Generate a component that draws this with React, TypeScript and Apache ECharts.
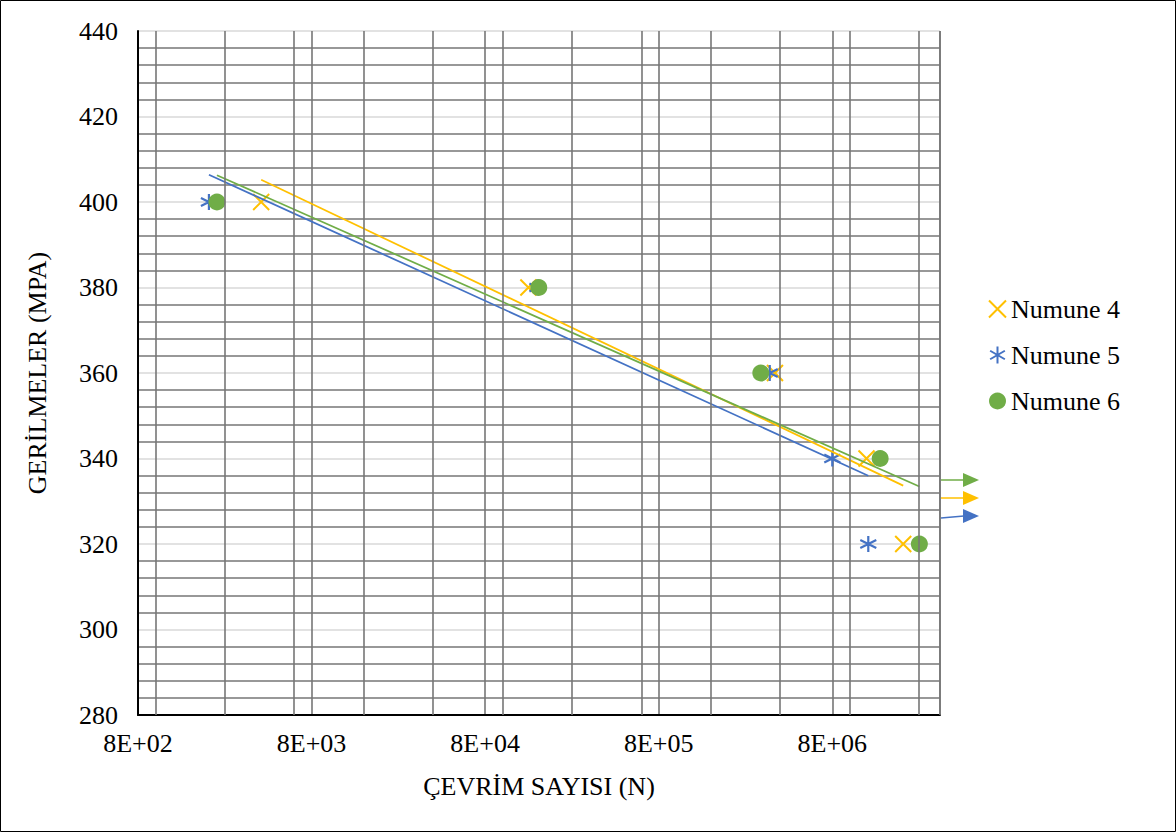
import React, { useEffect, useRef } from "react";
import * as echarts from "echarts";

// ---- data ----
const STRESS = [400, 380, 360, 340, 320];
const CYCLES_4 = [4100, 142000, 3740000, 12600000, 20500000];
const CYCLES_5 = [2050, 160000, 3490000, 8000000, 12900000];
const CYCLES_6 = [2280, 163000, 3100000, 15100000, 25400000];
const SERIES_NAMES = ["Numune 4", "Numune 5", "Numune 6"];
const X_MIN = 800;
const X_MAX = 33400000;
const X_TICK_LABELS = ["8E+02", "8E+03", "8E+04", "8E+05", "8E+06"];
const EXTRA_GRID_CYCLES = [1000, 2512, 6310, 15849, 39811, 100000, 251190, 630960, 1584900, 3981100, 10000000, 25119000];
const Y_MIN = 280;
const Y_MAX = 440;
const Y_STEP = 20;

const FONT = "'Liberation Serif', 'Times New Roman', serif";
const FS = 26;
const ORANGE = "#FFC000";
const BLUE = "#4472C4";
const GREEN = "#70AD47";
const GRID_DARK = "#767676";
const GRID_LIGHT = "#d9d9d9";

const X_PATH = "path://M0,0L10,10M10,0L0,10";
const STAR_PATH = "path://M5,0L5,10M0.67,2.5L9.33,7.5M0.67,7.5L9.33,2.5";

const u = (n: number) => Math.log10(n / X_MIN);

function logFit(cycles: number[], stress: number[]) {
  const xs = cycles.map((c) => Math.log10(c));
  const n = xs.length;
  const mx = xs.reduce((a, b) => a + b, 0) / n;
  const my = stress.reduce((a, b) => a + b, 0) / n;
  let sxy = 0;
  let sxx = 0;
  xs.forEach((x, i) => {
    sxy += (x - mx) * (stress[i] - my);
    sxx += (x - mx) * (x - mx);
  });
  const b = sxy / sxx;
  const a = my - b * mx;
  const cmin = Math.min(...cycles);
  const cmax = Math.max(...cycles);
  return [
    [u(cmin), a + b * Math.log10(cmin)],
    [u(cmax), a + b * Math.log10(cmax)],
  ];
}

export default function App() {
  const ref = useRef<HTMLDivElement>(null);
  useEffect(() => {
    if (!ref.current) return;
    const chart = echarts.init(ref.current, undefined, { renderer: "svg" });
    const pts = (c: number[]) => c.map((v, i) => [u(v), STRESS[i]]);
    const arrow = (y1: number, y2: number, color: string, lw: number) => [
      { type: "line", shape: { x1: 941, y1: y1, x2: 964, y2: y2 }, style: { stroke: color, lineWidth: lw } },
      { type: "polygon", shape: { points: [[963, y2 - 7], [979, y2], [963, y2 + 7]] }, style: { fill: color } },
    ];
    chart.setOption({
      animation: false,
      backgroundColor: "#fff",
      textStyle: { fontFamily: FONT },
      grid: { left: 138, right: 236, top: 31, bottom: 117, containLabel: false },
      legend: {
        orient: "vertical",
        left: 983,
        top: 291,
        itemWidth: 17,
        itemHeight: 17,
        itemGap: 20,
        textStyle: { fontSize: FS, fontFamily: FONT, color: "#000" },
        data: [
          { name: SERIES_NAMES[0], icon: X_PATH },
          { name: SERIES_NAMES[1], icon: STAR_PATH },
          { name: SERIES_NAMES[2], icon: "circle" },
        ],
      },
      xAxis: {
        type: "value",
        min: 0,
        max: u(X_MAX),
        interval: 1,
        name: "ÇEVRİM SAYISI (N)",
        nameLocation: "middle",
        nameGap: 58,
        nameTextStyle: { fontSize: FS, fontFamily: FONT, color: "#000" },
        axisLine: { show: true, lineStyle: { color: "#000", width: 2 } },
        axisTick: { show: false },
        axisLabel: {
          fontSize: FS,
          fontFamily: FONT,
          color: "#000",
          margin: 15,
          showMaxLabel: false,
          formatter: (v: number) => (Math.abs(v - Math.round(v)) < 1e-6 ? X_TICK_LABELS[Math.round(v)] || "" : ""),
        },
        splitLine: { show: true, lineStyle: { color: GRID_DARK, width: 1.6 } },
      },
      yAxis: {
        type: "value",
        min: Y_MIN,
        max: Y_MAX,
        interval: Y_STEP,
        name: "GERİLMELER (MPA)",
        nameLocation: "middle",
        nameGap: 88,
        nameTextStyle: { fontSize: FS, fontFamily: FONT, color: "#000" },
        axisLine: { show: true, lineStyle: { color: "#000", width: 2 } },
        axisTick: { show: false },
        axisLabel: { fontSize: FS, fontFamily: FONT, color: "#000", margin: 20 },
        minorTick: { show: false, splitNumber: 5 },
        minorSplitLine: { show: true, lineStyle: { color: GRID_DARK, width: 1.6 } },
        splitLine: { show: true, lineStyle: { color: GRID_LIGHT, width: 1.6 } },
      },
      graphic: [
        { type: "rect", shape: { x: 0.5, y: 0.5, width: 1175, height: 831 }, style: { fill: "none", stroke: "#000", lineWidth: 1 }, silent: true },
        ...arrow(480, 480, GREEN, 1.5),
        ...arrow(498, 498, ORANGE, 1.5),
        ...arrow(518, 516, BLUE, 1.5),
      ],
      series: [
        {
          name: "grid-extra",
          type: "line",
          data: [],
          silent: true,
          markLine: {
            silent: true,
            symbol: "none",
            label: { show: false },
            lineStyle: { color: GRID_DARK, width: 1.6, type: "solid" },
            data: [...EXTRA_GRID_CYCLES.map((c) => ({ xAxis: u(c) })), { xAxis: u(X_MAX) }],
          },
          z: 1,
        },
        {
          name: SERIES_NAMES[0],
          type: "scatter",
          symbol: X_PATH,
          symbolSize: 16,
          itemStyle: { color: ORANGE, borderColor: ORANGE, borderWidth: 2, opacity: 1 },
          data: pts(CYCLES_4),
          z: 3,
        },
        {
          name: SERIES_NAMES[1],
          type: "scatter",
          symbol: STAR_PATH,
          symbolSize: 16,
          itemStyle: { color: BLUE, borderColor: BLUE, borderWidth: 2.2, opacity: 1 },
          data: pts(CYCLES_5),
          z: 3,
        },
        {
          name: SERIES_NAMES[2],
          type: "scatter",
          symbol: "circle",
          symbolSize: 17,
          itemStyle: { color: GREEN, opacity: 1 },
          data: pts(CYCLES_6),
          z: 3,
        },
        {
          name: "trend4",
          type: "line",
          showSymbol: false,
          lineStyle: { color: ORANGE, width: 1.75 },
          data: logFit(CYCLES_4, STRESS),
          z: 4,
        },
        {
          name: "trend5",
          type: "line",
          showSymbol: false,
          lineStyle: { color: BLUE, width: 1.75 },
          data: logFit(CYCLES_5, STRESS),
          z: 4,
        },
        {
          name: "trend6",
          type: "line",
          showSymbol: false,
          lineStyle: { color: GREEN, width: 1.75 },
          data: logFit(CYCLES_6, STRESS),
          z: 4,
        },
      ],
    });
    return () => chart.dispose();
  }, []);
  return (
    <div
      ref={ref}
      style={{ position: "absolute", left: 0, top: 0, width: 1176, height: 832 }}
    />
  );
}
